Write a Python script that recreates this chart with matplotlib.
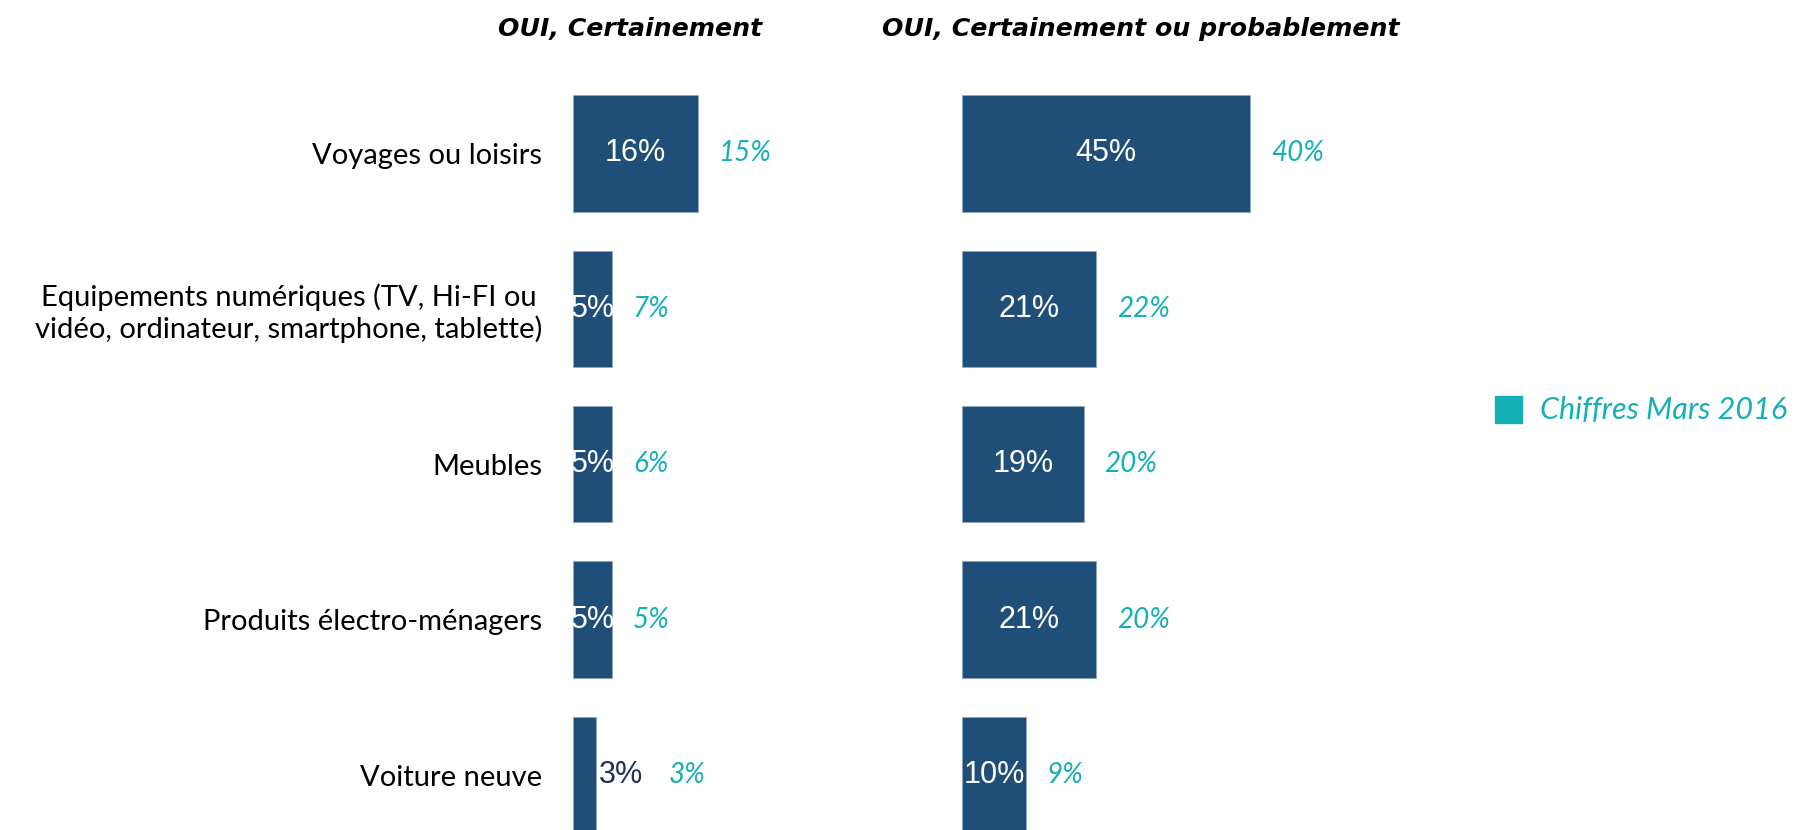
import matplotlib.pyplot as plt
import numpy as np

categories = [
    "Voyages ou loisirs",
    "Equipements numériques (TV, Hi-FI ou\nvidéo, ordinateur, smartphone, tablette)",
    "Meubles",
    "Produits électro-ménagers",
    "Voiture neuve",
]
certain_2017 = [16, 5, 5, 5, 3]
certain_2016 = [15, 7, 6, 5, 3]
probable_2017 = [45, 21, 19, 21, 10]
probable_2016 = [40, 22, 20, 20, 9]

titles = ["OUI, Certainement", "OUI, Certainement ou probablement"]
legend_label = "Chiffres Mars 2016"

BAR = "#1F4E78"
TEAL = "#15B0B6"
DARK = "#1F2F5E"
W, H = 1802, 830

fig = plt.figure(figsize=(W / 100, H / 100), dpi=100)

# axes placed in pixel terms: row 0 centre at 153 px, row pitch 155 px
top_px = 153.4 - 77.7
ylim = (4 + (H - 775) / 155.4, -0.5)
ax_h = (H - top_px) / H
ax1 = fig.add_axes([573 / W, 0, 7.8 * 30 / W, ax_h])
ax2 = fig.add_axes([962 / W, 0, 6.4 * 70 / W, ax_h])

y = np.arange(len(categories))


def draw(ax, now, before, xmax):
    ax.barh(y, now, height=0.75, color=BAR, edgecolor="#8FA6C0", linewidth=0.6)
    ax.set_xlim(0, xmax)
    ax.set_ylim(*ylim)
    for s in ax.spines.values():
        s.set_visible(False)
    ax.set_xticks([])
    for yi, v, b in zip(y, now, before):
        if v >= 4:
            ax.text(v / 2, yi, f"{v}%", ha="center", va="center", color="white",
                    fontsize=22, family="Liberation Sans")
            off = 15
        else:
            ax.annotate(f"{v}%", (v, yi), xytext=(2, 0), textcoords="offset points",
                        ha="left", va="center", color=DARK, fontsize=22,
                        family="Liberation Sans")
            off = 52
        ax.annotate(f"{b}%", (v, yi), xytext=(off, 0), textcoords="offset points",
                    ha="left", va="center", color=TEAL, fontsize=20,
                    style="italic", family="Lato")


draw(ax1, certain_2017, certain_2016, 30)
draw(ax2, probable_2017, probable_2016, 70)

ax1.set_yticks(y)
ax1.set_yticklabels(categories, fontsize=21, family="Lato", multialignment="center")
ax1.tick_params(axis="y", length=0, pad=22)
ax2.set_yticks([])

fig.text(630 / W, 1 - 29 / H, titles[0], ha="center", va="center",
         fontsize=18.2, fontweight="bold", style="italic")
fig.text(1141 / W, 1 - 29 / H, titles[1], ha="center", va="center",
         fontsize=18.2, fontweight="bold", style="italic")

# legend
fig.patches.append(plt.Rectangle((1495 / W, 1 - 423 / H), 27 / W, 27 / H,
                                 transform=fig.transFigure, color=TEAL))
fig.text(1540 / W, 1 - 410 / H, legend_label, ha="left", va="center",
         fontsize=22, style="italic", color=TEAL, family="Lato")

fig.savefig("out.png", dpi=100)
